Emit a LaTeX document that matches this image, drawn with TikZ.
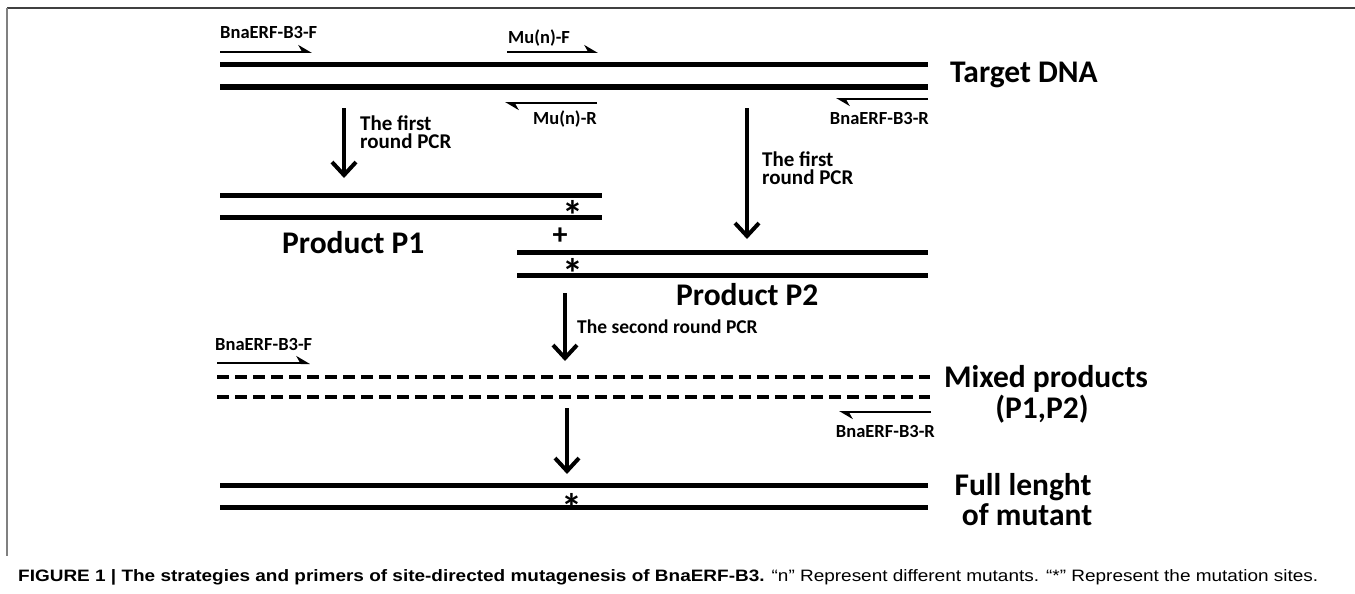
\documentclass[tikz,border=0pt]{standalone}
\usepackage{fontspec}
\setmainfont{Carlito}
\newfontfamily\capfont{Liberation Sans}
\usetikzlibrary{arrows.meta}
\tikzset{
  strand/.style={line width=5pt},
  dstrand/.style={line width=3.5pt, dash pattern=on 12pt off 6pt},
  primer/.style={line width=2pt, -{Stealth[harpoon,length=12pt,width=14pt]}},
  flow/.style={line width=4pt, -{Straight Barb[length=13pt,width=24pt,line width=4pt]}},
  plab/.style={inner sep=0pt, font=\fontsize{18.5}{18}\selectfont\bfseries},
  slab/.style={inner sep=0pt, font=\fontsize{21}{18}\selectfont\bfseries},
  sslab/.style={inner sep=0pt, font=\fontsize{19.5}{18}\selectfont\bfseries},
  big/.style={inner sep=0pt, font=\fontsize{31.5}{31}\selectfont\bfseries},
  star/.style={inner sep=0pt, font=\fontsize{42}{42}\selectfont\bfseries},
}
\begin{document}
\begin{tikzpicture}[x=1pt,y=-1pt]
\useasboundingbox (0,0) rectangle (1355,594);
% frame
\draw[line width=1.6pt, black!75] (7,8) -- (1355,8);
\draw[line width=2pt, black!50] (7,8) -- (7,556);

% Target DNA
\coordinate (t1a) at (220,65); \coordinate (t1b) at (928,65);
\coordinate (t2a) at (220,87); \coordinate (t2b) at (928,87);
\draw[strand] (t1a) -- (t1b);
\draw[strand] (t2a) -- (t2b);
\node[big, anchor=base west] (tdna) at (950,83) {Target DNA};

% primers on target
\coordinate (pf1) at (220,52); \coordinate (pf2) at (312,52);
\draw[primer] (pf1) -- (pf2);
\node[plab, anchor=base west] (lbf1) at (220,39) {BnaERF-B3-F};
\coordinate (mf1) at (507,52); \coordinate (mf2) at (598,52);
\draw[primer] (mf1) -- (mf2);
\node[plab, anchor=base west] (lmf) at (508,44) {Mu(n)-F};
\coordinate (mr1) at (597,103); \coordinate (mr2) at (505,103);
\draw[primer] (mr1) -- (mr2);
\node[plab, anchor=base east] (lmr) at (597,124) {Mu(n)-R};
\coordinate (br1) at (928,99); \coordinate (br2) at (836,99);
\draw[primer] (br1) -- (br2);
\node[plab, anchor=base east] (lbr1) at (929,124) {BnaERF-B3-R};

% first round PCR arrows
\coordinate (a1s) at (344,108); \coordinate (a1e) at (344,178);
\draw[flow] (a1s) -- (a1e);
\node[slab, anchor=base west] (l1a) at (360,130) {The first};
\node[slab, anchor=base west] (l1b) at (360,148) {round PCR};
\coordinate (a2s) at (747,108); \coordinate (a2e) at (747,239);
\draw[flow] (a2s) -- (a2e);
\node[slab, anchor=base west] (l2a) at (762,166) {The first};
\node[slab, anchor=base west] (l2b) at (762,184) {round PCR};

% Product P1
\coordinate (p1a) at (220,195); \coordinate (p1b) at (602,195);
\coordinate (p1c) at (220,217); \coordinate (p1d) at (602,217);
\draw[strand] (p1a) -- (p1b);
\draw[strand] (p1c) -- (p1d);
\node[star] (s1) at (573,215) {*};
\node[big, anchor=base west] (lp1) at (282,253) {Product P1};
\node[inner sep=0pt, font=\fontsize{30}{30}\selectfont\bfseries] (plus) at (560,236) {+};

% Product P2
\coordinate (p2a) at (517,252); \coordinate (p2b) at (928,252);
\coordinate (p2c) at (517,275); \coordinate (p2d) at (928,275);
\draw[strand] (p2a) -- (p2b);
\draw[strand] (p2c) -- (p2d);
\node[star] (s2) at (573,273) {*};
\node[big, anchor=base west] (lp2) at (676,305) {Product P2};

% second round PCR
\coordinate (a3s) at (565,293); \coordinate (a3e) at (565,361);
\draw[flow] (a3s) -- (a3e);
\node[sslab, anchor=base west] (l3) at (577,333) {The second round PCR};

% mixed products
\coordinate (pf3) at (217,363); \coordinate (pf4) at (310,363);
\draw[primer] (pf3) -- (pf4);
\node[plab, anchor=base west] (lbf2) at (215,350) {BnaERF-B3-F};
\coordinate (m1a) at (217,377); \coordinate (m1b) at (930,377);
\coordinate (m2a) at (217,397); \coordinate (m2b) at (930,397);
\draw[dstrand] (m1a) -- (m1b);
\draw[dstrand] (m2a) -- (m2b);
\coordinate (br3) at (931,412); \coordinate (br4) at (839,412);
\draw[primer] (br3) -- (br4);
\node[plab, anchor=base east] (lbr2) at (935,437) {BnaERF-B3-R};
\node[big, anchor=base] (lmix1) at (1046,387) {Mixed products};
\node[big, anchor=base] (lmix2) at (1042,418) {(P1,P2)};

% final
\coordinate (a4s) at (567,408); \coordinate (a4e) at (567,474);
\draw[flow] (a4s) -- (a4e);
\coordinate (f1a) at (220,485); \coordinate (f1b) at (928,485);
\coordinate (f2a) at (220,507); \coordinate (f2b) at (928,507);
\draw[strand] (f1a) -- (f1b);
\draw[strand] (f2a) -- (f2b);
\node[star] (s3) at (572,508) {*};
\node[big, anchor=base] (lfull1) at (1023,495) {Full lenght};
\node[big, anchor=base] (lfull2) at (1027,525) {of mutant};

% caption
\node[inner sep=0pt, anchor=base west] (cap) at (18,581) {\resizebox{1300pt}{\height}{\capfont\fontsize{16.5}{20}\selectfont\textbf{FIGURE 1 | The strategies and primers of site-directed mutagenesis of BnaERF-B3.} “n” Represent different mutants. “*” Represent the mutation sites.}};
\end{tikzpicture}
\end{document}
